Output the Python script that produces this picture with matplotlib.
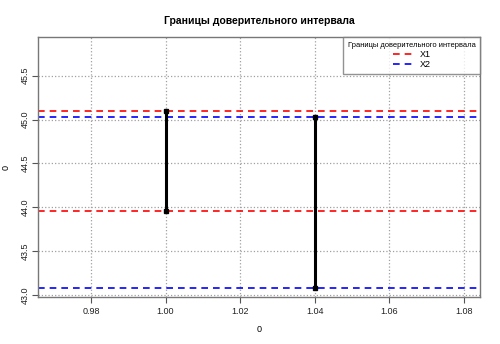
import matplotlib.pyplot as plt

# границы доверительных интервалов
x_pos = [1.00, 1.04]
x1_bounds = [43.962, 45.092]
x2_bounds = [43.08, 45.026]
legend_labels = ["X1", "X2"]
x_ticks = [0.98, 1.00, 1.02, 1.04, 1.06, 1.08]
y_ticks = [43.0, 43.5, 44.0, 44.5, 45.0, 45.5]

plt.rcParams['font.family'] = ['Liberation Sans', 'DejaVu Sans']

fig = plt.figure(figsize=(5, 3.44), dpi=100)
ax = fig.add_axes([38/500, 1-297/344, (480-38)/500, (297-37)/344])

ax.set_xlim(0.9658, 1.0843)
ax.set_ylim(42.98, 45.94)

ax.grid(True, color='#a0a0a0', linestyle=':', linewidth=0.9)
ax.set_axisbelow(True)

# горизонтальные линии
ax.axhline(x1_bounds[0], color='red', linestyle='--', linewidth=1.2, dashes=(4, 3))
ax.axhline(x1_bounds[1], color='red', linestyle='--', linewidth=1.2, dashes=(4, 3), label=legend_labels[0])
ax.axhline(x2_bounds[0], color='blue', linestyle='--', linewidth=1.2, dashes=(4, 3))
ax.axhline(x2_bounds[1], color='blue', linestyle='--', linewidth=1.2, dashes=(4, 3), label=legend_labels[1])

# отрезки интервалов
for xv, b in zip(x_pos, [x1_bounds, x2_bounds]):
    ax.plot([xv, xv], b, color='black', linewidth=2.2)
    ax.plot([xv, xv], b, 's', color='black', markersize=3.5)

ax.set_xticks(x_ticks)
ax.set_xticklabels([f"{t:.2f}" for t in x_ticks])
ax.set_yticks(y_ticks)
ax.set_yticklabels([f"{t:.1f}" for t in y_ticks], rotation=90, va='center')
ax.tick_params(labelsize=6.5, length=4, color='#555555', labelcolor='#222222', pad=3)
ax.tick_params(axis='y', pad=2)

for s in ax.spines.values():
    s.set_color('#777777')
    s.set_linewidth(1.0)

ax.set_xlabel("0", fontsize=6.5, labelpad=6.5)
ax.set_ylabel("0", fontsize=6.5, labelpad=7)
ax.set_title("Границы доверительного интервала", fontsize=7.5, fontweight='bold', pad=9.5)

leg = ax.legend(title="Границы доверительного интервала", loc='upper right',
                fontsize=6.5, title_fontsize=5.4, frameon=True, fancybox=False,
                borderaxespad=0, handlelength=2.2, borderpad=0.5, labelspacing=0.15)
leg.get_frame().set_edgecolor('#777777')
leg.get_frame().set_linewidth(1.0)

fig.savefig("out.png", dpi=100)
